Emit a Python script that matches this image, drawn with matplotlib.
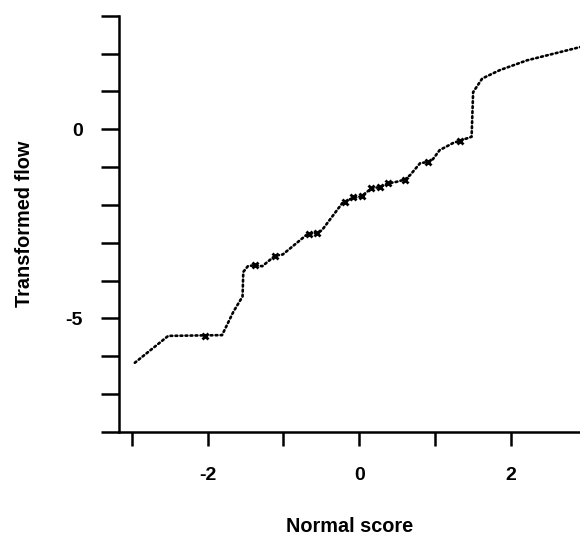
import matplotlib
matplotlib.use("Agg")
import matplotlib.pyplot as plt

plt.rcParams["font.family"] = ["Liberation Sans", "DejaVu Sans"]

# Normal score vs transformed flow (curve vertices)
normalScore = [-2.96, -2.52, -1.81, -1.66, -1.54, -1.53, -1.47, -1.38, -1.28, -1.11,
               -1.01, -0.69, -0.54, -0.49, -0.22, -0.09, 0.03, 0.16, 0.27, 0.38,
               0.49, 0.60, 0.67, 0.80, 0.91, 0.97, 1.06, 1.24, 1.33, 1.48,
               1.50, 1.62, 1.85, 2.21, 2.91]
transFlow = [-6.17, -5.46, -5.44, -4.82, -4.42, -3.77, -3.62, -3.59, -3.62, -3.34,
             -3.31, -2.78, -2.73, -2.66, -1.94, -1.82, -1.77, -1.56, -1.53, -1.43,
             -1.39, -1.33, -1.21, -0.90, -0.86, -0.79, -0.55, -0.36, -0.30, -0.20,
             0.98, 1.34, 1.56, 1.82, 2.17]

# tied observations drawn as crosses
tieScore = [-2.03, -1.38, -1.11, -0.66, -0.56, -0.19, -0.08, 0.03, 0.16, 0.27,
            0.38, 0.60, 0.91, 1.33]
tieFlow = [-5.46, -3.59, -3.34, -2.77, -2.73, -1.92, -1.80, -1.77, -1.56, -1.53,
           -1.43, -1.33, -0.86, -0.30]

xTicks = [-3, -2, -1, 0, 1, 2]
xTickLabels = ["", "-2", "", "0", "", "2"]
yTicks = [-8, -7, -6, -5, -4, -3, -2, -1, 0, 1, 2, 3]
yTickLabels = ["", "", "", "-5", "", "", "", "", "0", "", "", ""]

fig = plt.figure(figsize=(5.8, 5.37), dpi=100)
ax = fig.add_axes([0.205, 0.1955, 0.795, 0.7753])

ax.plot(normalScore, transFlow, color="black", lw=1.9,
        linestyle=(0, (0.7, 1.2)), dash_capstyle="round", clip_on=False)
ax.plot(tieScore, tieFlow, "x", color="black", ms=5, mew=2.0, clip_on=False)

ax.set_xlim(-3.17, 2.909)
ax.set_ylim(-8, 3)

ax.set_xticks(xTicks)
ax.set_xticklabels(xTickLabels)
ax.set_yticks(yTicks)
ax.set_yticklabels(yTickLabels)

ax.spines["top"].set_visible(False)
ax.spines["right"].set_visible(False)
for s in ["left", "bottom"]:
    ax.spines[s].set_linewidth(1.8)

ax.tick_params(axis="x", direction="out", length=10, width=1.8, pad=15, labelsize=14)
ax.tick_params(axis="y", direction="out", length=13, width=1.8, pad=13, labelsize=14)
for lbl in ax.get_xticklabels() + ax.get_yticklabels():
    lbl.set_fontweight("bold")

ax.set_xlabel("Normal score", fontsize=14.3, fontweight="bold")
ax.set_ylabel("Transformed flow", fontsize=14.3, fontweight="bold")
ax.xaxis.set_label_coords(0.5, -0.205)
ax.yaxis.set_label_coords(-0.185, 0.5)

plt.savefig("out.png", dpi=100)
